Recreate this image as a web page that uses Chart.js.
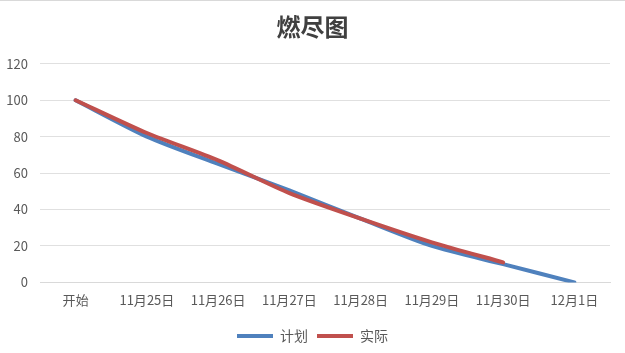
<!DOCTYPE html>
<html><head><meta charset="utf-8">
<script src="https://cdn.jsdelivr.net/npm/chart.js@4/dist/chart.umd.min.js"></script>
<style>html,body{margin:0;padding:0;background:#fff;}#wrap{width:625px;height:353px;border-top:1px solid #d9d9d9;box-sizing:border-box;}</style>
</head><body><div id="wrap"><canvas id="c" width="625" height="352"></canvas></div>
<script>
const categories = ["开始","11月25日","11月26日","11月27日","11月28日","11月29日","11月30日","12月1日"];
const planValues = [100, 80, 65, 50.5, 35, 20, 10, 0];
const actualValues = [100, 82, 67, 49, 35, 22, 11, null];
const yTicks = [0, 20, 40, 60, 80, 100, 120];
const FONT = "'Noto Sans CJK SC', 'Microsoft YaHei', sans-serif";
new Chart(document.getElementById('c'), {
  type: 'line',
  data: {
    labels: categories,
    datasets: [
      {label: '计划', data: planValues, order: 1, borderColor: '#4F81BD', backgroundColor: '#4F81BD', borderWidth: 4, pointRadius: 0, tension: 0.25, borderCapStyle: 'round'},
      {label: '实际', data: actualValues, order: 0, borderColor: '#C0504D', backgroundColor: '#C0504D', borderWidth: 4, pointRadius: 0, tension: 0.25, borderCapStyle: 'round'}
    ]
  },
  options: {
    responsive: false,
    animation: false,
    layout: {padding: {left: 0, right: 0, top: 5, bottom: 0}},
    plugins: {
      title: {display: true, text: '燃尽图', color: '#404040', font: {family: FONT, size: 24, weight: 'bold'}, padding: {top: 6, bottom: 23}},
      legend: {position: 'bottom', labels: {usePointStyle: true, pointStyle: 'line', pointStyleWidth: 36, color: '#595959', font: {family: FONT, size: 14}, padding: 9, boxHeight: 4, sort: (a, b) => a.datasetIndex - b.datasetIndex}},
      tooltip: {enabled: false}
    },
    scales: {
      x: {offset: true, grid: {display: false}, border: {display: true, color: '#d9d9d9'}, afterFit: (s) => { s.height += 10; }, ticks: {color: '#595959', font: {family: FONT, size: 13}, maxRotation: 0, autoSkip: false, padding: 2}},
      y: {min: 0, max: 120, afterBuildTicks: (s) => { s.ticks = yTicks.map(v => ({value: v})); }, afterFit: (s) => { s.width = 40; }, grid: {color: '#e0e0e0', drawTicks: false}, border: {display: false}, ticks: {color: '#595959', font: {family: FONT, size: 13}, padding: 12}},
      yRight: {position: 'right', display: true, grid: {display: false}, border: {display: false}, ticks: {display: false}, afterFit: (s) => { s.width = 15; }}
    }
  }
});
</script></body></html>
